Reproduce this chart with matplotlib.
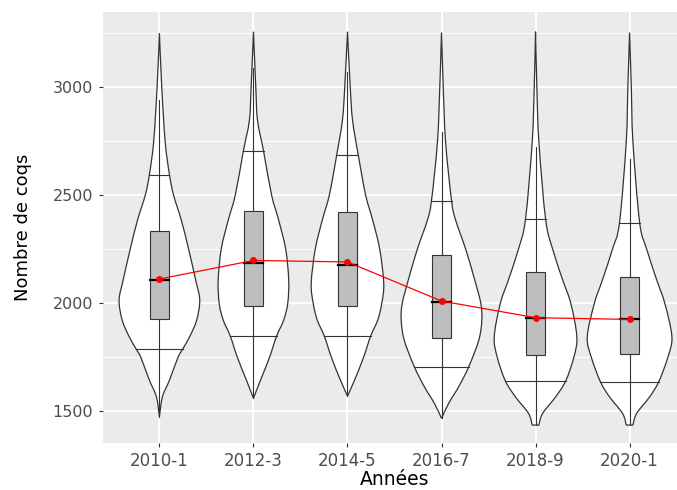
import numpy as np
import matplotlib.pyplot as plt
from matplotlib.patches import Rectangle, PathPatch
from matplotlib.path import Path

# periodes (axe x)
annees = ['2010-1', '2012-3', '2014-5', '2016-7', '2018-9', '2020-1']

# contour des violons : valeurs (nombre de coqs) et demi-largeur relative (max = 42)
violon_y = [
    [3249, 3001, 2747, 2593, 2500, 2384, 2249, 2106, 2014, 1921, 1844, 1786, 1749, 1643, 1566, 1474],
    [3256, 3001, 2847, 2704, 2500, 2384, 2249, 2106, 1998, 1921, 1847, 1749, 1643, 1559],
    [3256, 3001, 2847, 2685, 2500, 2384, 2249, 2091, 1998, 1921, 1847, 1749, 1643, 1569],
    [3252, 3001, 2747, 2472, 2384, 2249, 2106, 1998, 1921, 1828, 1705, 1612, 1535, 1466],
    [3256, 3001, 2747, 2387, 2249, 2106, 1998, 1844, 1749, 1640, 1566, 1489, 1435],
    [3252, 3001, 2747, 2372, 2249, 2106, 1998, 1844, 1749, 1636, 1566, 1489, 1435],
]
violon_w = [
    [0, 2.3, 5.7, 10, 14, 21.7, 29, 36, 40, 37, 30, 23, 18.5, 10, 3, 0],
    [0, 2.3, 4, 10, 18, 25, 32, 35, 34, 30, 23, 16, 7, 0],
    [0, 2.7, 5, 10.7, 18, 25, 32, 36, 34, 30, 23, 16, 7, 0],
    [0, 1.7, 4, 10, 14, 24, 33, 39, 40, 37, 27, 17, 7, 0],
    [0, 1.3, 3.3, 10, 17, 27, 35, 41, 38, 30, 20, 7, 3.3],
    [0, 1.7, 3.3, 10, 17, 27, 35, 42, 38, 29, 20, 7, 3.3],
]

# boxplots
moust_haut = [2940, 3087, 3071, 2793, 2724, 2665]
q3 = [2335, 2427, 2422, 2222, 2145, 2122]
mediane = [2106, 2184, 2177, 2006, 1932, 1926]
q1 = [1928, 1988, 1988, 1836, 1759, 1762]
moust_bas = [1474, 1559, 1569, 1466, 1435, 1435]

# quantiles traces dans les violons
quant_haut = [2593, 2704, 2685, 2472, 2387, 2372]
quant_bas = [1786, 1847, 1847, 1705, 1640, 1636]

# moyennes
moyenne = [2111, 2197, 2190, 2009, 1932, 1924]


def courbe(pts):
    # segments de Bezier (Catmull-Rom) passant par les points lus
    p = np.vstack([pts[:1], pts, pts[-1:]])
    verts, codes = [], []
    for k in range(1, len(p) - 2):
        c1 = p[k] + (p[k + 1] - p[k - 1]) / 6
        c2 = p[k + 1] - (p[k + 2] - p[k]) / 6
        verts += [c1, c2, p[k + 1]]
        codes += [Path.CURVE4] * 3
    return verts, codes


gris = '#333333'
fig = plt.figure(figsize=(6.77, 4.9), dpi=100)
ax = fig.add_axes([103 / 677, 47 / 490, 583 / 677, 431 / 490])
ax.set_facecolor('#EBEBEB')

echelle = 0.45 / 42
for i in range(len(annees)):
    xc = i + 1
    ys = np.array(violon_y[i], dtype=float)
    ws = np.array(violon_w[i]) * echelle
    gauche = np.column_stack([xc - ws, ys])
    droite = np.column_stack([xc + ws, ys])[::-1]
    vg, cg = courbe(gauche)
    vd, cd = courbe(droite)
    verts = [gauche[0]] + vg + [droite[0]] + vd + [gauche[0]]
    codes = [Path.MOVETO] + cg + [Path.LINETO] + cd + [Path.CLOSEPOLY]
    ax.add_patch(PathPatch(Path(verts, codes), facecolor='white', edgecolor=gris,
                           lw=0.9, zorder=3))
    for q in (quant_haut[i], quant_bas[i]):
        w = np.interp(q, ys[::-1], ws[::-1])
        ax.plot([xc - w, xc + w], [q, q], color=gris, lw=0.8, zorder=4)
    ax.plot([xc, xc], [q3[i], moust_haut[i]], color=gris, lw=0.8, zorder=4)
    ax.plot([xc, xc], [moust_bas[i], q1[i]], color=gris, lw=0.8, zorder=4)
    bw = 0.105
    ax.add_patch(Rectangle((xc - bw, q1[i]), 2 * bw, q3[i] - q1[i],
                           facecolor='#BEBEBE', edgecolor=gris, lw=0.8, zorder=5))
    ax.plot([xc - bw, xc + bw], [mediane[i], mediane[i]], color='black',
            lw=1.6, zorder=6)

pos = np.arange(1, len(annees) + 1)
ax.plot(pos, moyenne, color='red', lw=0.9, zorder=7)
ax.plot(pos, moyenne, 'o', color='red', ms=4, zorder=8)

ax.set_xlim(0.4, 6.6)
ax.set_ylim(1352, 3347)
ax.set_xticks(pos)
ax.set_xticklabels(annees)
ax.set_yticks([1500, 2000, 2500, 3000])
ax.set_yticks([1750, 2250, 2750, 3250], minor=True)
ax.grid(which='major', color='white', lw=1.4, zorder=0)
ax.grid(which='minor', color='white', lw=0.7, zorder=0)
ax.set_axisbelow(True)
for s in ax.spines.values():
    s.set_visible(False)
ax.tick_params(which='major', color=gris, length=3, width=0.8, pad=4,
               labelcolor='#4D4D4D', labelsize=11.5)
ax.tick_params(axis='x', labelsize=12, pad=3.5)
ax.tick_params(which='minor', length=0)

ax.set_xlabel('Années', fontsize=13.5, labelpad=0)
ax.set_ylabel('Nombre de coqs', fontsize=13, labelpad=15)

fig.savefig('out.png', dpi=100)
